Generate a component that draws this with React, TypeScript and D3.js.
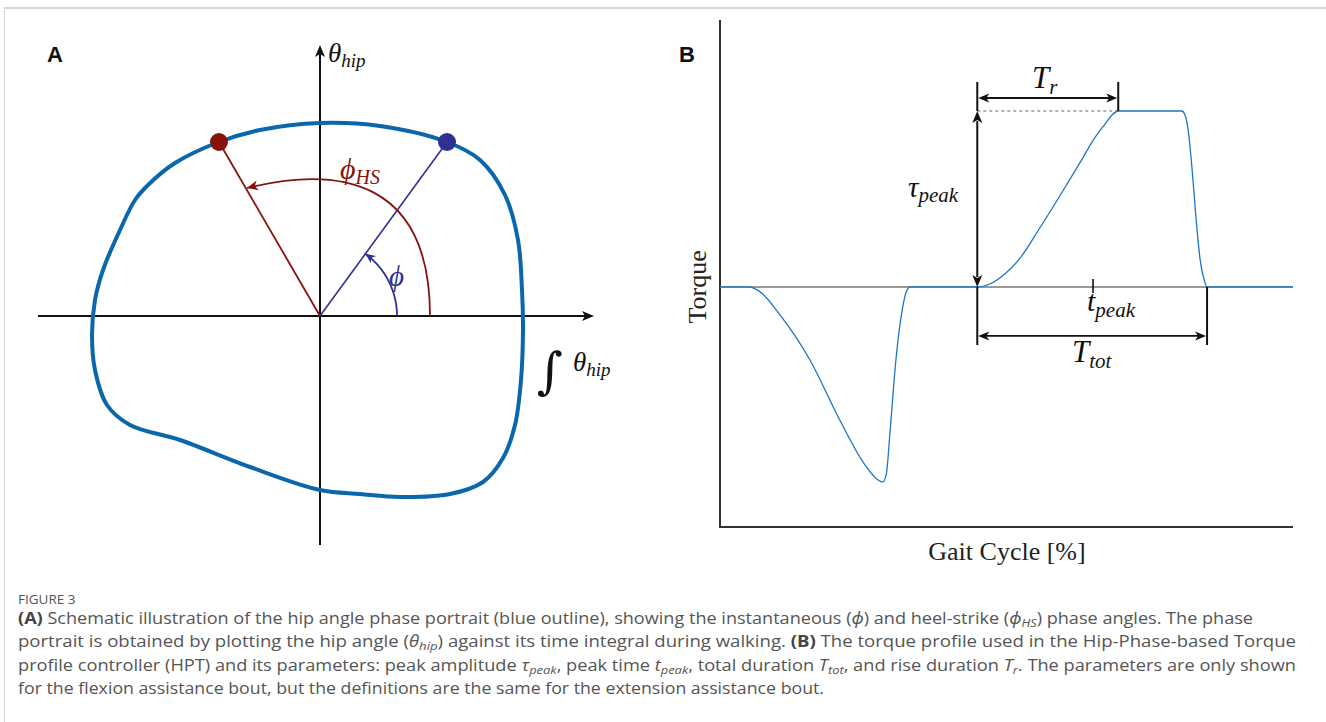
import React from "react";
import * as d3 from "d3";

// ---------- Panel A data (phase portrait, arbitrary units) ----------
const blobX = [0, 0.3, 0.635, 0.8, 0.925, 0.99, 1.01, 1.015, 1.005, 0.975, 0.915, 0.815, 0.65, 0.4, 0.2, 0, -0.35, -0.7, -0.95, -1.065, -1.125, -1.14, -1.125, -1.085, -1.0, -0.925, -0.86, -0.725, -0.505, -0.3];
const blobY = [0.965, 0.95, 0.87, 0.78, 0.605, 0.38, 0.13, -0.07, -0.32, -0.545, -0.71, -0.83, -0.89, -0.905, -0.89, -0.87, -0.755, -0.62, -0.545, -0.445, -0.27, -0.095, 0.08, 0.23, 0.43, 0.58, 0.655, 0.765, 0.87, 0.93];
const heelStrikePoint = [-0.505, 0.87];
const currentPoint = [0.635, 0.87];

// ---------- Panel B data (torque profile) ----------
const gaitPct = [0, 4.9, 7.0, 10.5, 15.7, 20.9, 25.3, 27.6, 28.4, 29.0, 29.7, 30.7, 31.8, 32.5, 33.2, 44.9, 47.1, 49.7, 52.4, 55.8, 59.3, 62.8, 65.4, 67.2, 68.4, 69.5, 80.6, 81.15, 81.7, 82.4, 83.1, 83.8, 84.5, 85.0, 100];
const torque = [0, 0, -0.028, -0.16, -0.415, -0.756, -1.011, -1.097, -1.108, -1.068, -0.8125, -0.415, -0.13, -0.028, 0, 0, 0.017, 0.074, 0.165, 0.335, 0.517, 0.705, 0.847, 0.926, 0.977, 1, 1, 0.977, 0.892, 0.665, 0.381, 0.153, 0.04, 0, 0];
const riseStart = 44.9;
const riseEnd = 69.5;
const fallEnd = 85.0;
const peakTime = 65.1;

const captionLines: [string, string][][] = [
  [["(A)", "b"], [" Schematic illustration of the hip angle phase portrait (blue outline), showing the instantaneous (", "n"], ["ϕ", "i"], [") and heel-strike (", "n"], ["ϕ", "i"], ["HS", "is"], [") phase angles. The phase", "n"]],
  [["portrait is obtained by plotting the hip angle (", "n"], ["θ", "i"], ["hip", "is"], [") against its time integral during walking. ", "n"], ["(B)", "b"], [" The torque profile used in the Hip-Phase-based Torque", "n"]],
  [["profile controller (HPT) and its parameters: peak amplitude ", "n"], ["τ", "i"], ["peak", "is"], [", peak time ", "n"], ["t", "i"], ["peak", "is"], [", total duration ", "n"], ["T", "i"], ["tot", "is"], [", and rise duration ", "n"], ["T", "i"], ["r", "is"], [". The parameters are only shown", "n"]],
  [["for the flexion assistance bout, but the definitions are the same for the extension assistance bout.", "n"]],
];
const captionWidths = [1235, 1278, 1278, 806];

const MATH = "'Liberation Serif', 'DejaVu Serif', serif";
const SANS = "'Open Sans', 'Noto Sans', sans-serif";

function arrowHead(tx: number, ty: number, dx: number, dy: number, len = 11, half = 4.5, notch = 3) {
  const n = Math.hypot(dx, dy);
  const ux = dx / n, uy = dy / n;
  const px = -uy, py = ux;
  const bx = tx - ux * len, by = ty - uy * len;
  const nx = tx - ux * (len - notch), ny = ty - uy * (len - notch);
  return `M${tx},${ty}L${bx + px * half},${by + py * half}L${nx},${ny}L${bx - px * half},${by - py * half}Z`;
}

function MathText({ x, y, main, sub, size, subSize, color = "#111", anchor = "start", subDy = 5 }: any) {
  return (
    <text x={x} y={y} fontFamily={MATH} fontStyle="italic" fontSize={size} fill={color} textAnchor={anchor}>
      {main}
      {sub ? <tspan fontSize={subSize} dy={subDy}>{sub}</tspan> : null}
    </text>
  );
}

function Caption() {
  const baseY = [624, 647, 671, 694];
  return (
    <g fontFamily={SANS} fontSize={15.5} fill="#555">
      <text x={18} y={604} fontSize={13.5} fill="#555">FIGURE 3</text>
      {captionLines.map((segs, li) => {
        let shifted = false;
        return (
          <text key={li} x={18} y={baseY[li]} textLength={captionWidths[li]} lengthAdjust="spacingAndGlyphs">
            {segs.map(([t, s], si) => {
              let dy = 0;
              if (s === "is" && !shifted) { dy = 3; shifted = true; }
              else if (s !== "is" && shifted) { dy = -3; shifted = false; }
              return (
                <tspan key={si} dy={dy || undefined}
                  fontWeight={s === "b" ? 700 : 400}
                  fill={s === "b" ? "#444" : "#555"}
                  fontStyle={s === "i" || s === "is" ? "italic" : "normal"}
                  fontSize={s === "is" ? 11 : undefined}>{t}</tspan>
              );
            })}
          </text>
        );
      })}
    </g>
  );
}

function PanelA() {
  const x = d3.scaleLinear().domain([-1, 1]).range([120, 520]);
  const y = d3.scaleLinear().domain([-1, 1]).range([516, 116]);
  const pts: [number, number][] = blobX.map((v, i) => [x(v), y(blobY[i])]);
  const blob = d3.line().curve(d3.curveCatmullRomClosed.alpha(0.5))(pts) || "";

  const ox = x(0), oy = y(0);
  const axL = x(-1.41), axR = x(1.37), ayB = y(-1.145), ayT = y(1.355);

  const phiAng = Math.atan2(currentPoint[1], currentPoint[0]);
  const rPhi = 0.385;
  const arcPts: [number, number][] = d3.range(0, 1.0001, 0.02).map((t) => {
    const a = t * phiAng;
    return [x(rPhi * Math.cos(a)), y(rPhi * Math.sin(a))];
  });
  const phiArc = d3.line()(arcPts) || "";
  const phiTip = arcPts[arcPts.length - 1];
  const phiDir = [-Math.sin(phiAng), -Math.cos(phiAng)];

  const P0 = [0.55, 0], P1 = [0.55, 0.68], P2 = [0.1, 0.755], P3 = [-0.365, 0.64];
  const p = d3.path();
  p.moveTo(x(P0[0]), y(P0[1]));
  p.bezierCurveTo(x(P1[0]), y(P1[1]), x(P2[0]), y(P2[1]), x(P3[0]), y(P3[1]));
  const hsDir = [x(P3[0]) - x(P2[0]), y(P3[1]) - y(P2[1])];

  const red = "#86140c";
  const navy = "#2e3192";
  return (
    <g>
      <text x={47} y={62} fontFamily="'Liberation Sans', Arial, sans-serif" fontWeight={700} fontSize={22} fill="#111">A</text>
      <line x1={axL} y1={oy} x2={axR - 6} y2={oy} stroke="#111" strokeWidth={2} />
      <path d={arrowHead(axR, oy, 1, 0, 12, 5, 3)} fill="#111" />
      <line x1={ox} y1={ayB} x2={ox} y2={ayT + 6} stroke="#111" strokeWidth={2} />
      <path d={arrowHead(ox, ayT, 0, -1, 12, 5, 3)} fill="#111" />
      <MathText x={328} y={62} main="θ" sub="hip" size={27} subSize={19} />
      <text x={537} y={388} fontFamily="'DejaVu Serif', serif" fontSize={50} fill="#111">∫</text>
      <MathText x={573} y={371} main="θ" sub="hip" size={27} subSize={19} />

      <path d={blob} fill="none" stroke="#0a67ab" strokeWidth={4} />

      <line x1={ox} y1={oy} x2={x(heelStrikePoint[0])} y2={y(heelStrikePoint[1])} stroke={red} strokeWidth={1.8} />
      <line x1={ox} y1={oy} x2={x(currentPoint[0])} y2={y(currentPoint[1])} stroke={navy} strokeWidth={1.6} />

      <path d={phiArc} fill="none" stroke={navy} strokeWidth={1.8} />
      <path d={arrowHead(phiTip[0], phiTip[1], phiDir[0], phiDir[1], 10, 4.5, 3)} fill={navy} />
      <path d={p.toString()} fill="none" stroke={red} strokeWidth={1.8} />
      <path d={arrowHead(x(P3[0]), y(P3[1]), hsDir[0], hsDir[1], 11, 5, 3)} fill={red} />

      <MathText x={340} y={179} main="ϕ" sub="HS" size={30} subSize={20} color={red} />
      <MathText x={389} y={286} main="ϕ" size={29} color={navy} />

      <circle cx={x(heelStrikePoint[0])} cy={y(heelStrikePoint[1])} r={9} fill={red} />
      <circle cx={x(currentPoint[0])} cy={y(currentPoint[1])} r={9} fill={navy} />
    </g>
  );
}

function PanelB() {
  const x = d3.scaleLinear().domain([0, 100]).range([720, 1293]);
  const y = d3.scaleLinear().domain([-1.364, 1]).range([527, 111]);
  const line = d3.line<number>().x((_, i) => x(gaitPct[i])).y((d) => y(d)).curve(d3.curveMonotoneX);
  const curve = line(torque) || "";
  const y0 = y(0);
  const yTop = y(1);
  const axisTop = y(1.517);
  const trTick = y(1.165), trArrow = y(1.074);
  const ttBottom = y(-0.33), ttArrow = y(-0.278);
  const ax = "#111";
  return (
    <g>
      <text x={679} y={62} fontFamily="'Liberation Sans', Arial, sans-serif" fontWeight={700} fontSize={22} fill="#111">B</text>
      <line x1={x(0)} y1={axisTop} x2={x(0)} y2={y(-1.364)} stroke="#333" strokeWidth={2} />
      <line x1={x(0) - 1} y1={y(-1.364)} x2={x(100)} y2={y(-1.364)} stroke="#333" strokeWidth={2} />
      <line x1={x(0)} y1={y0} x2={x(100)} y2={y0} stroke="#777" strokeWidth={1.6} />
      <path d={curve} fill="none" stroke="#1c74c4" strokeWidth={1.3} />
      <text transform={`translate(${706},${y0}) rotate(-90)`} textAnchor="middle" fontFamily={MATH} fontSize={26} fill="#222">Torque</text>
      <text x={1007} y={560} textAnchor="middle" fontFamily={MATH} fontSize={26} fill="#222">Gait Cycle [%]</text>

      <line x1={x(riseStart)} y1={y0 - 10} x2={x(riseStart)} y2={yTop + 10} stroke={ax} strokeWidth={2} />
      <path d={arrowHead(x(riseStart), yTop, 0, -1, 12, 5, 3)} fill={ax} />
      <path d={arrowHead(x(riseStart), y0, 0, 1, 12, 5, 3)} fill={ax} />
      <MathText x={908} y={197} main="τ" sub="peak" size={29} subSize={21} />

      <line x1={x(riseStart)} y1={yTop} x2={x(riseEnd)} y2={yTop} stroke="#666" strokeWidth={1.2} strokeDasharray="3,3" />

      <line x1={x(riseStart)} y1={trTick} x2={x(riseStart)} y2={yTop} stroke={ax} strokeWidth={2} />
      <line x1={x(riseEnd)} y1={trTick} x2={x(riseEnd)} y2={yTop} stroke={ax} strokeWidth={2} />
      <line x1={x(riseStart) + 8} y1={trArrow} x2={x(riseEnd) - 8} y2={trArrow} stroke={ax} strokeWidth={1.8} />
      <path d={arrowHead(x(riseStart) + 1, trArrow, -1, 0, 11, 4.5, 3)} fill={ax} />
      <path d={arrowHead(x(riseEnd) - 1, trArrow, 1, 0, 11, 4.5, 3)} fill={ax} />
      <MathText x={1032} y={88} main="T" sub="r" size={31} subSize={21} subDy={6} />

      <line x1={x(peakTime)} y1={y0 - 8} x2={x(peakTime)} y2={y0 + 6} stroke={ax} strokeWidth={1.6} />
      <MathText x={1087} y={311} main="t" sub="peak" size={30} subSize={21} subDy={6} />

      <line x1={x(riseStart)} y1={y0} x2={x(riseStart)} y2={ttBottom} stroke={ax} strokeWidth={2} />
      <line x1={x(fallEnd)} y1={y0} x2={x(fallEnd)} y2={ttBottom} stroke={ax} strokeWidth={2} />
      <line x1={x(riseStart) + 8} y1={ttArrow} x2={x(fallEnd) - 8} y2={ttArrow} stroke={ax} strokeWidth={1.8} />
      <path d={arrowHead(x(riseStart) + 1, ttArrow, -1, 0, 11, 4.5, 3)} fill={ax} />
      <path d={arrowHead(x(fallEnd) - 1, ttArrow, 1, 0, 11, 4.5, 3)} fill={ax} />
      <MathText x={1072} y={362} main="T" sub="tot" size={31} subSize={21} subDy={6} />
    </g>
  );
}

export default function App() {
  return (
    <svg width={1326} height={722} style={{ position: "absolute", left: 0, top: 0, background: "#fff" }}>
      <rect x={0} y={0} width={1326} height={722} fill="#fff" />
      <line x1={4} y1={8} x2={1326} y2={8} stroke="#d6d6d6" strokeWidth={2} />
      <line x1={4.5} y1={8} x2={4.5} y2={722} stroke="#d0d0d0" strokeWidth={1} />
      <PanelA />
      <PanelB />
      <Caption />
    </svg>
  );
}
